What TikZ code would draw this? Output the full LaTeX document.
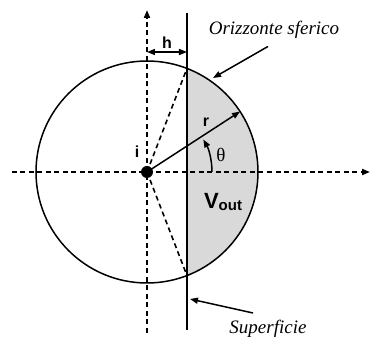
\documentclass[tikz,border=0pt]{standalone}
\usepackage{fontspec}
\setmainfont{Liberation Serif}
\setsansfont{Liberation Sans}
\usetikzlibrary{arrows.meta, calc, positioning}

\begin{document}
\begin{tikzpicture}[x=1pt, y=1pt, >={Triangle[length=8pt,width=6pt]}, line width=1.5pt,
    axis/.style={dash pattern=on 5pt off 3.5pt, line width=1.8pt},
    ray/.style={dash pattern=on 5pt off 3.5pt, line width=1.6pt},
    tag/.style={font=\sffamily\bfseries\fontsize{16}{16}\selectfont, inner sep=1pt},
    note/.style={font=\itshape\fontsize{19}{19}\selectfont, inner sep=1pt}]
    \useasboundingbox (-147,-165) rectangle (223,172);
    % volume outside the surface
    \fill[gray!30] (68.9:111) arc[start angle=68.9, end angle=-68.9, radius=111] -- cycle;
    \draw[axis, ->] (-135,0) -- (223,0);
    \draw[axis, ->] (0,-161) -- (0,162);
    \draw (0,0) circle[radius=111];
    \draw (40,159) -- (40,-158);
    \node[circle, fill, inner sep=0pt, minimum size=12pt] (i) at (0,0) {};
    \coordinate (up) at (68.9:111);
    \coordinate (dn) at (-68.9:111);
    \coordinate (rp) at (33:111);
    \draw[ray] (i.center) -- (up);
    \draw[ray] (i.center) -- (dn);
    \draw[->] (i.center) -- (rp);
    \draw[->] (65,0) arc[start angle=0, end angle=30, radius=65];
    \draw[<->] (0,120) -- node[tag, above=2pt] {h} (40,120);
    \node[tag] (ilbl) at (-10,20) {i};
    \node[tag] (rlbl) at (59,50) {r};
    \node[font=\fontsize{19}{19}\selectfont] (th) at (74,17) {θ};
    \node[font=\sffamily\bfseries] (vout) at (76,-30)
        {\fontsize{22}{22}\selectfont V\raisebox{-2pt}{\fontsize{15}{15}\selectfont out}};
    \node[note] (orz) at (127,142) {Orizzonte sferico};
    \node[note] (sup) at (121,-157) {Superficie};
    \coordinate (orzend) at (66,94);
    \coordinate (supend) at (43,-127);
    \draw[->] ($(orz.south)+(-6,-6)$) coordinate (orzst) -- (orzend);
    \draw[->] ($(sup.center)+(-15,16)$) coordinate (supst) -- (supend);
\end{tikzpicture}
\end{document}
